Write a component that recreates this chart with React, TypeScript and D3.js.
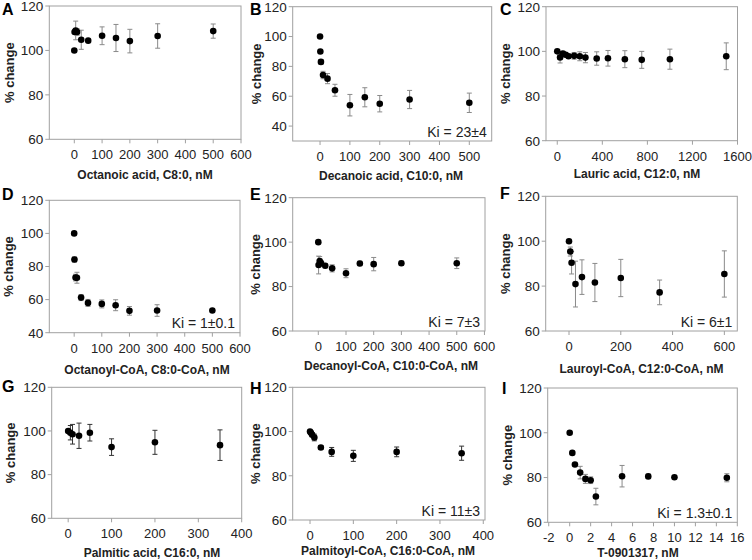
import React from "react";
import * as d3 from "d3";

// ---- Data ----
const aX = [0, 1, 5, 10, 25, 50, 100, 150, 200, 300, 500];
const aY = [100, 108.3, 109, 108.3, 104.8, 104.4, 106.6, 105.6, 104.2, 106.5, 108.7];
const aErr = [0, 0, 4.2, 1.5, 4.3, 0.5, 4, 6.1, 5.3, 5.5, 3.2];

const bX = [0, 1, 3, 10, 25, 50, 100, 150, 200, 300, 500];
const bY = [100, 90, 83, 74.2, 71.8, 64, 54, 59.3, 55, 57.8, 55.6];
const bErr = [0, 0, 1.5, 2.5, 3.4, 4, 7.2, 6.4, 5.5, 6.1, 6.5];

const cX = [0, 25, 50, 75, 100, 150, 200, 250, 350, 450, 600, 750, 1000, 1500];
const cY = [100, 97.3, 99, 98.5, 97.8, 98, 97.8, 97.2, 96.8, 96.9, 96.5, 96.2, 96.5, 97.8];
const cErr = [0, 2.5, 1, 1, 1, 1.5, 2, 2.3, 3, 3.5, 3.8, 3.8, 4.5, 6];

const dX = [0, 1, 5, 10, 25, 50, 100, 150, 200, 300, 500];
const dY = [100, 84.2, 73.3, 73.2, 61.2, 58, 57.4, 56.6, 53.2, 53.4, 53.4];
const dErr = [0, 1.6, 2, 3.3, 1.8, 2.1, 2.4, 3.3, 2.6, 3.5, 0.5];

const eX = [0, 1, 5, 10, 25, 50, 100, 150, 200, 300, 500];
const eY = [100, 89.7, 91.5, 90.5, 89.4, 88.2, 86, 90.4, 90.1, 90.5, 90.5];
const eErr = [0, 4, 2, 1.2, 1, 1.6, 2, 1, 3, 1, 2.4];

const fX = [0, 5, 10, 25, 50, 100, 200, 350, 600];
const fY = [100, 95.4, 90.4, 80.9, 84, 81.6, 83.6, 77.2, 85.4];
const fErr = [0, 2, 5, 10.2, 7.7, 8.5, 8.3, 5.5, 10.3];

const gX = [0, 5, 10, 25, 50, 100, 200, 350];
const gY = [100, 99.2, 98.5, 97.8, 99.2, 92.6, 94.8, 93.5];
const gErr = [0, 3.3, 4.5, 5.8, 3.8, 3.8, 5.5, 7];

const hX = [0, 2, 5, 10, 25, 50, 100, 200, 350];
const hY = [100, 99.4, 98.5, 97.3, 92.8, 90.8, 89, 90.8, 90.2];
const hErr = [0, 0.5, 0.8, 1.5, 0.8, 2, 2.5, 2.2, 3.2];

const iX = [0, 0.25, 0.5, 1, 1.5, 2, 2.5, 5, 7.5, 10, 15];
const iY = [100, 91, 85.8, 82.2, 79.4, 78.8, 71.5, 80.6, 80.5, 80.1, 79.9];
const iErr = [0, 0.5, 0.5, 2.8, 2, 1.5, 3.7, 4.8, 1, 0.5, 1.8];

const tick600 = [0, 100, 200, 300, 400, 500, 600];
const tick500 = [0, 100, 200, 300, 400, 500];
const tick1600 = [0, 400, 800, 1200, 1600];
const tick600b = [0, 200, 400, 600];
const tick400 = [0, 100, 200, 300, 400];
const tickI = [-2, 0, 2, 4, 6, 8, 10, 12, 14, 16];
const yTicks60 = [60, 80, 100, 120];
const yTicks40 = [40, 60, 80, 100, 120];

const titles = [
  "Octanoic acid, C8:0, nM",
  "Decanoic acid, C10:0, nM",
  "Lauric acid, C12:0, nM",
  "Octanoyl-CoA, C8:0-CoA, nM",
  "Decanoyl-CoA, C10:0-CoA, nM",
  "Lauroyl-CoA, C12:0-CoA, nM",
  "Palmitic acid, C16:0, nM",
  "Palmitoyl-CoA, C16:0-CoA, nM",
  "T-0901317, nM",
];
const kiLabels = ["", "Ki = 23±4", "", "Ki = 1±0.1", "Ki = 7±3", "Ki = 6±1", "", "Ki = 11±3", "Ki = 1.3±0.1"];
const letters = ["A", "B", "C", "D", "E", "F", "G", "H", "I"];

// ---- Layout ----
type Panel = {
  xs: number[]; ys: number[]; errs: number[];
  xd: [number, number]; yd: [number, number];
  xt: number[]; yt: number[];
  l: number; r: number; t: number; b: number;
  lx: number; ly: number; ytx: number; xtx: number; xty: number;
  errColor: string;
};

const panels: Panel[] = [
  { xs: aX, ys: aY, errs: aErr, xd: [-90, 600], yd: [60, 120], xt: tick600, yt: yTicks60,
    l: 49.3, r: 241, t: 6, b: 139.3, lx: 2, ly: 15, ytx: 9, xtx: 145, xty: 178.5, errColor: "#8a8a8a" },
  { xs: bX, ys: bY, errs: bErr, xd: [-91.6, 575], yd: [30, 120], xt: tick500, yt: yTicks40,
    l: 292.7, r: 491.7, t: 6.7, b: 141, lx: 250, ly: 15, ytx: 256, xtx: 391, xty: 179.5, errColor: "#8a8a8a" },
  { xs: cX, ys: cY, errs: cErr, xd: [-100, 1600], yd: [60, 120], xt: tick1600, yt: yTicks60,
    l: 546, r: 737.5, t: 6.7, b: 140.7, lx: 500, ly: 15, ytx: 505, xtx: 637, xty: 178, errColor: "#8a8a8a" },
  { xs: dX, ys: dY, errs: dErr, xd: [-90, 600], yd: [40, 120], xt: tick600, yt: yTicks40,
    l: 49.3, r: 240, t: 200.3, b: 332.7, lx: 2, ly: 200, ytx: 8, xtx: 147, xty: 373.5, errColor: "#8a8a8a" },
  { xs: eX, ys: eY, errs: eErr, xd: [-92.5, 602], yd: [60, 120], xt: tick600, yt: yTicks60,
    l: 292.7, r: 485, t: 197.7, b: 331, lx: 250, ly: 200, ytx: 255, xtx: 391, xty: 370, errColor: "#8a8a8a" },
  { xs: fX, ys: fY, errs: fErr, xd: [-90, 650], yd: [60, 120], xt: tick600b, yt: yTicks60,
    l: 545.7, r: 737.3, t: 196.3, b: 331, lx: 500, ly: 199, ytx: 505, xtx: 641.5, xty: 373, errColor: "#8a8a8a" },
  { xs: gX, ys: gY, errs: gErr, xd: [-38, 400], yd: [60, 120], xt: tick400, yt: yTicks60,
    l: 51.7, r: 241.7, t: 387.3, b: 518.3, lx: 2, ly: 392, ytx: 10, xtx: 152, xty: 556.5, errColor: "#333333" },
  { xs: hX, ys: hY, errs: hErr, xd: [-40, 404], yd: [60, 120], xt: tick400, yt: yTicks60,
    l: 292.7, r: 485, t: 387.3, b: 520, lx: 250, ly: 394, ytx: 255, xtx: 388, xty: 555, errColor: "#333333" },
  { xs: iX, ys: iY, errs: iErr, xd: [-2.1, 16], yd: [60, 120], xt: tickI, yt: yTicks60,
    l: 547.7, r: 737.3, t: 388, b: 522.3, lx: 502, ly: 394, ytx: 507, xtx: 638, xty: 556.5, errColor: "#8a8a8a" },
];

const FONT = "'Liberation Sans', Arial, Helvetica, sans-serif";
const FRAME = "#a0a0a0";

function PanelView({ p, idx }: { p: Panel; idx: number }) {
  const x = d3.scaleLinear().domain(p.xd).range([p.l, p.r]);
  const y = d3.scaleLinear().domain(p.yd).range([p.b, p.t]);
  const ki = kiLabels[idx];
  const cy = (p.t + p.b) / 2;
  return (
    <g>
      <rect x={p.l} y={p.t} width={p.r - p.l} height={p.b - p.t} fill="none" stroke={FRAME} strokeWidth={1} />
      {p.yt.map((v) => (
        <g key={"y" + v}>
          <line x1={p.l - 4} x2={p.l} y1={y(v)} y2={y(v)} stroke={FRAME} />
          <text x={p.l - 6} y={y(v)} dy="0.36em" textAnchor="end" fontSize={13.5} fill="#222">{v}</text>
        </g>
      ))}
      {p.xt.map((v) => (
        <g key={"x" + v}>
          <line x1={x(v)} x2={x(v)} y1={p.b} y2={p.b + 4} stroke={FRAME} />
          <text x={x(v)} y={p.b + 20} textAnchor="middle" fontSize={13} fill="#222">{v}</text>
        </g>
      ))}
      {p.xs.map((xv, i) => {
        const e = p.errs[i];
        if (!e) return null;
        const px = x(xv);
        const y1 = y(p.ys[i] + e);
        const y2 = y(p.ys[i] - e);
        return (
          <g key={"e" + i} stroke={p.errColor} strokeWidth={1}>
            <line x1={px} x2={px} y1={y1} y2={y2} />
            <line x1={px - 2.5} x2={px + 2.5} y1={y1} y2={y1} />
            <line x1={px - 2.5} x2={px + 2.5} y1={y2} y2={y2} />
          </g>
        );
      })}
      {p.xs.map((xv, i) => (
        <circle key={"c" + i} cx={x(xv)} cy={y(p.ys[i])} r={3.3} fill="#000" />
      ))}
      {ki && (
        <text x={p.r - 5} y={p.b - 4.5} textAnchor="end" fontSize={14} fill="#222">{ki}</text>
      )}
      <text x={p.xtx} y={p.xty} textAnchor="middle" fontSize={12} fontWeight="bold" fill="#222">{titles[idx]}</text>
      <text transform={`translate(${p.ytx},${cy}) rotate(-90)`} dy="0.36em" textAnchor="middle" fontSize={13} fontWeight="bold" fill="#222">% change</text>
      <text x={p.lx} y={p.ly} fontSize={16} fontWeight="bold" fill="#000">{letters[idx]}</text>
    </g>
  );
}

export default function App() {
  return (
    <svg width={752} height={560} style={{ position: "absolute", left: 0, top: 0, background: "#fff" }} fontFamily={FONT}>
      <rect x={0} y={0} width={752} height={560} fill="#fff" />
      {panels.map((p, i) => (
        <PanelView key={i} p={p} idx={i} />
      ))}
    </svg>
  );
}
